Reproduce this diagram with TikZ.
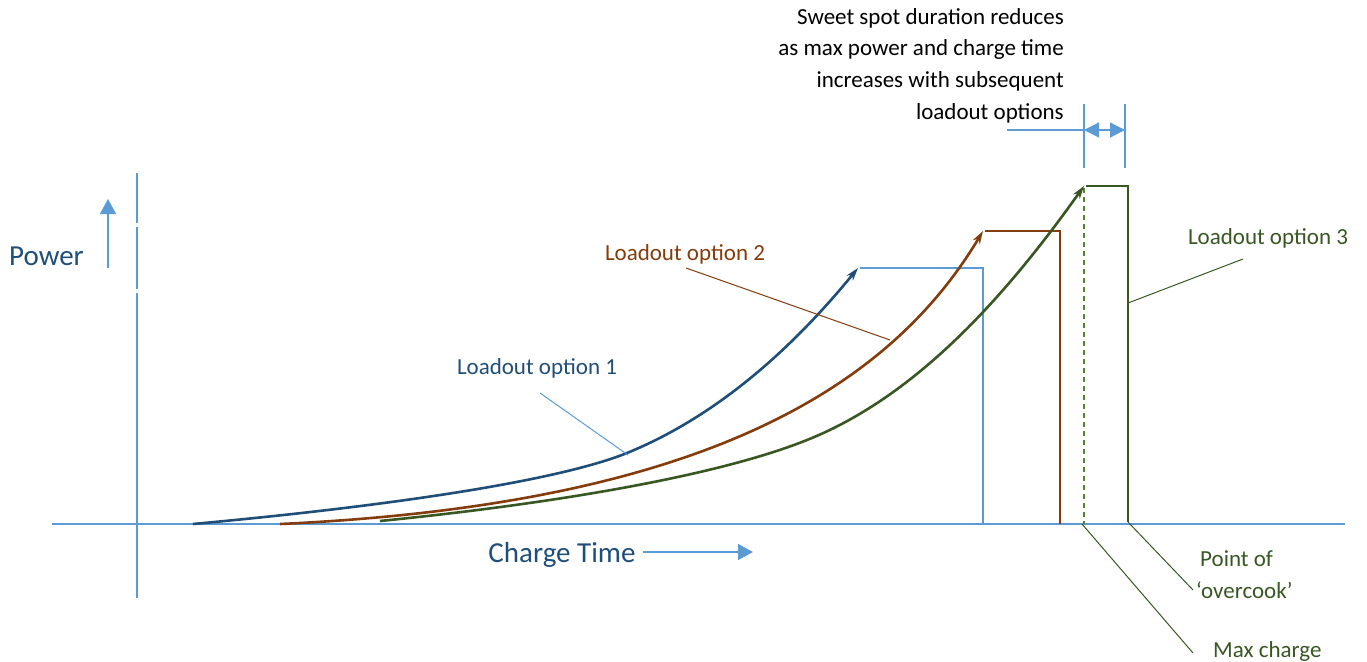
\documentclass[tikz,border=0pt]{standalone}
\usepackage{fontspec}
\setmainfont{Carlito}
\usetikzlibrary{arrows.meta}
\definecolor{axisblue}{HTML}{5B9BD5}
\definecolor{navy}{HTML}{1F4E79}
\definecolor{rust}{HTML}{843C0C}
\definecolor{forest}{HTML}{385723}
\definecolor{leaf}{HTML}{548235}
\tikzset{
  axisline/.style={draw=axisblue, line width=1.5pt},
  curveline/.style={line width=2.6pt, line join=round},
  leader/.style={line width=1pt},
  lbl/.style={font=\fontsize{23}{30}\selectfont, inner sep=0pt},
  biglbl/.style={font=\fontsize{29}{34}\selectfont, inner sep=0pt, text=navy},
  bigtip/.style={-{Triangle[length=15pt,width=16pt]}},
  curvetip/.style={-{Stealth[length=13pt,width=8pt,inset=4pt]}}
}
\begin{document}
\begin{tikzpicture}[x=1pt,y=-1pt]
\useasboundingbox (0,0) rectangle (1367,661);

% axes
\coordinate (xa) at (52,524);
\coordinate (xb) at (1345,524);
\draw[axisline] (xa) -- (xb);
\coordinate (ya1) at (137,173); \coordinate (ya2) at (137,223);
\coordinate (yb1) at (137,227); \coordinate (yb2) at (137,289);
\coordinate (yc1) at (137,293); \coordinate (yc2) at (137,598);
\draw[axisline] (ya1) -- (ya2);
\draw[axisline] (yb1) -- (yb2);
\draw[axisline] (yc1) -- (yc2);

% axis labels
\node[biglbl, anchor=west] (power) at (9,256) {Power};
\coordinate (pa0) at (108,268); \coordinate (pa1) at (108,199);
\draw[axisline, bigtip] (pa0) -- (pa1);
\node[biglbl] (ctime) at (562,555) {Charge Time};
\coordinate (ca0) at (643,552); \coordinate (ca1) at (753,552);
\draw[axisline, bigtip] (ca0) -- (ca1);

% curve 1
\coordinate (b0) at (193,524);
\coordinate (b3) at (627,453);
\coordinate (b6) at (858,268);
\draw[curveline, draw=navy, curvetip] (b0) .. controls (400,505) and (560,480) .. (b3)
  .. controls (720,415) and (795,345) .. (b6);
\coordinate (bp0) at (860,268);
\coordinate (bp1) at (983,268);
\coordinate (bp2) at (983,524);
\draw[curveline, draw=axisblue, line join=miter] (bp0) -- (bp1) -- (bp2);

% curve 2
\coordinate (r0) at (280,524);
\coordinate (r6) at (983,231);
\draw[curveline, draw=rust, curvetip] (r0) .. controls (690,505) and (885,395) .. (r6);
\coordinate (rp0) at (985,231);
\coordinate (rp1) at (1060,231);
\coordinate (rp2) at (1060,524);
\draw[curveline, draw=rust, line join=miter] (rp0) -- (rp1) -- (rp2);

% curve 3
\coordinate (g0) at (380,521);
\coordinate (g3) at (807,440);
\coordinate (g7) at (1084,186);
\draw[curveline, draw=forest, curvetip] (g0) .. controls (560,503) and (720,475) .. (g3)
  .. controls (920,395) and (1010,290) .. (g7);
\coordinate (gp0) at (1086,186);
\coordinate (gp1) at (1128,186);
\coordinate (gp2) at (1128,522);
\draw[curveline, draw=forest, line join=miter] (gp0) -- (gp1) -- (gp2);
\coordinate (gd0) at (1084,188);
\coordinate (gd1) at (1084,524);
\draw[draw=leaf, line width=1.5pt, dash pattern=on 5pt off 4pt] (gd0) -- (gd1);

% labels and leaders
\node[lbl, text=navy] (l1) at (537,368) {Loadout option 1};
\coordinate (l1a) at (540,393); \coordinate (l1b) at (628,455);
\draw[leader, draw=axisblue] (l1a) -- (l1b);

\node[lbl, text=rust] (l2) at (685,254) {Loadout option 2};
\coordinate (l2a) at (686,268); \coordinate (l2b) at (890,340);
\draw[leader, draw=rust] (l2a) -- (l2b);

\node[lbl, text=forest] (l3) at (1268,238) {Loadout option 3};
\coordinate (l3a) at (1243,259); \coordinate (l3b) at (1128,303);
\draw[leader, draw=forest] (l3a) -- (l3b);

\node[lbl, text=forest, align=left, anchor=north west, font=\fontsize{23}{32}\selectfont] (oc) at (1196,550) {\hspace*{4pt}Point of\\‘overcook’};
\coordinate (oca) at (1128,522); \coordinate (ocb) at (1193,590);
\draw[leader, draw=forest] (oca) -- (ocb);

\node[lbl, text=forest, anchor=west] (mc) at (1213,651) {Max charge};
\coordinate (mca) at (1082,524); \coordinate (mcb) at (1193,653);
\draw[leader, draw=forest] (mca) -- (mcb);

% sweet spot
\node[lbl, text=black, align=right, anchor=north east, font=\fontsize{23}{31.7}\selectfont] (ss) at (1064,8) {Sweet spot duration reduces\\as max power and charge time\\increases with subsequent\\loadout options};
\coordinate (sv1a) at (1084,104); \coordinate (sv1b) at (1084,168);
\coordinate (sv2a) at (1125,104); \coordinate (sv2b) at (1125,168);
\draw[axisline, line width=1.2pt] (sv1a) -- (sv1b);
\draw[axisline, line width=1.2pt] (sv2a) -- (sv2b);
\coordinate (sh0) at (1007,130);
\coordinate (sh1) at (1084,130);
\coordinate (sh2) at (1125,130);
\draw[axisline, line width=1.2pt] (sh0) -- (sh1);
\draw[axisline, line width=1.2pt, {Triangle[length=15pt,width=15pt]}-{Triangle[length=15pt,width=15pt]}] (sh1) -- (sh2);
\end{tikzpicture}
\end{document}
